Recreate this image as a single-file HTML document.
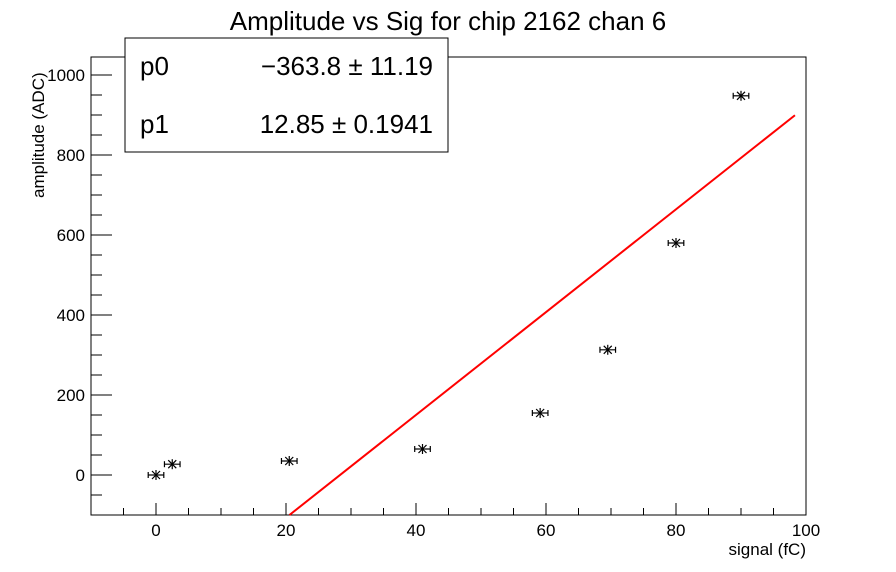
<!DOCTYPE html>
<html><head><meta charset="utf-8"><style>
body{margin:0;background:#fff;}
svg{display:block;font-family:"Liberation Sans",sans-serif;}
</style></head><body>
<svg id="c" width="896" height="572">
<text x="448" y="30" font-size="26" text-anchor="middle">Amplitude vs Sig for chip 2162 chan 6</text>
<g id="axes"></g>
<g id="marks"></g>
<text x="806" y="555" font-size="17" text-anchor="end">signal (fC)</text>
<text transform="translate(44,198) rotate(-90)" font-size="17">amplitude (ADC)</text>
<g>
<rect x="125" y="38" width="323" height="114" fill="#fff" stroke="#000" stroke-width="1"/>
<text x="140" y="75" font-size="26">p0</text>
<text x="433" y="75" font-size="26" text-anchor="end">−363.8 ± 11.19</text>
<text x="140" y="133" font-size="26">p1</text>
<text x="433" y="133" font-size="26" text-anchor="end">12.85 ± 0.1941</text>
</g>
</svg>
<script>
const xs=[0,2.5,20.5,41,59.1,69.5,80,90];
const ys=[0,27,35,65,155,313,580,948];
const xErr=[1.2,1.2,1.2,1.2,1.2,1.2,1.2,1.2];
const xTicks=[0,20,40,60,80,100];
const yTicks=[0,200,400,600,800,1000];
const p0=-363.8, p1=12.85, fitMax=98.3;
const L=91,R=806,T=57,B=515,xmin=-10,xmax=100,ymin=-100,ymax=1045;
const X=v=>L+(v-xmin)/(xmax-xmin)*(R-L);
const Y=v=>B-(v-ymin)/(ymax-ymin)*(B-T);
const NS="http://www.w3.org/2000/svg";
function mk(t,a,p){const e=document.createElementNS(NS,t);for(const k in a)e.setAttribute(k,a[k]);p.appendChild(e);return e;}
const ax=document.getElementById('axes'),mg=document.getElementById('marks');
const fr=mk('rect',{x:L,y:T,width:R-L,height:B-T,fill:'none',stroke:'#000'},ax);


for(let v=-10;v<=100;v+=5){const maj=v%20===0;mk('line',{x1:X(v),x2:X(v),y1:B,y2:B-(maj?12:7),stroke:'#000'},ax);}
xTicks.forEach(v=>{const t=mk('text',{x:X(v),y:B+21,'font-size':17,'text-anchor':'middle'},ax);t.textContent=v;

});
for(let v=-100;v<=1040;v+=50){const maj=v%200===0;mk('line',{x1:L,x2:L+(maj?21:11),y1:Y(v),y2:Y(v),stroke:'#000'},ax);}
yTicks.forEach(v=>{const t=mk('text',{x:L-6,y:Y(v)+6,'font-size':17,'text-anchor':'end'},ax);t.textContent=v;

});
const x0=Math.max(xmin,(ymin-p0)/p1);
const fl=mk('line',{x1:X(x0),y1:Y(p0+p1*x0),x2:X(fitMax),y2:Y(p0+p1*fitMax),stroke:'#f00','stroke-width':2},mg);


xs.forEach((x,i)=>{const g=mk('g',{stroke:'#000','stroke-width':1.2},mg);


const cx=X(x),cy=Y(ys[i]),e=xErr[i]*(R-L)/(xmax-xmin);
mk('line',{x1:cx-e,x2:cx+e,y1:cy,y2:cy},g);
mk('line',{x1:cx-e,x2:cx-e,y1:cy-3,y2:cy+3},g);
mk('line',{x1:cx+e,x2:cx+e,y1:cy-3,y2:cy+3},g);
mk('line',{x1:cx,x2:cx,y1:cy-5,y2:cy+5},g);
mk('line',{x1:cx-4,x2:cx+4,y1:cy-4,y2:cy+4},g);
mk('line',{x1:cx-4,x2:cx+4,y1:cy+4,y2:cy-4},g);});
</script>
</body></html>
